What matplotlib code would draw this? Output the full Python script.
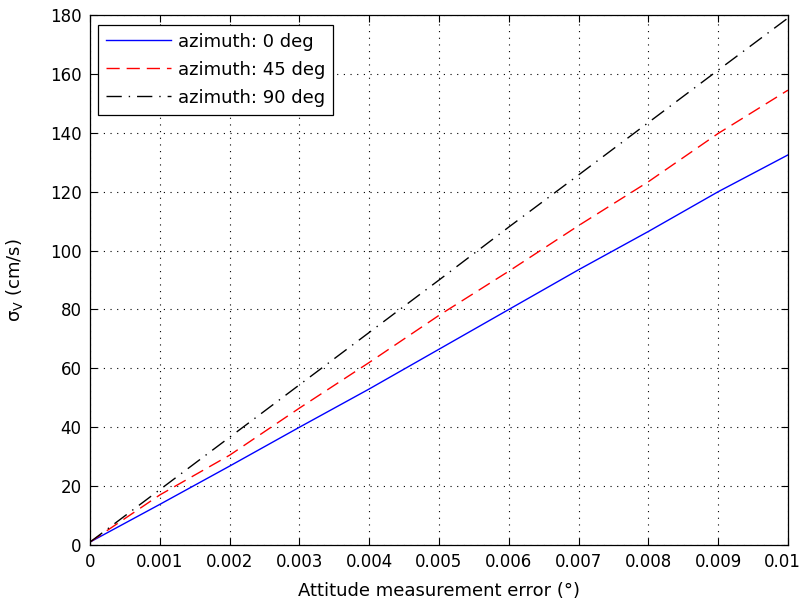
import numpy as np
import matplotlib.pyplot as plt
from matplotlib.transforms import ScaledTranslation

# Attitude error (deg) and resulting velocity error sigma (cm/s)
err = [0, 0.001, 0.002, 0.003, 0.004, 0.005, 0.006, 0.007, 0.008, 0.009, 0.01]
az0 = [1, 13.8, 26.8, 40, 53, 66.5, 80, 93.5, 106.5, 120, 132.5]
az45 = [1, 17, 30.5, 46.5, 62, 78, 93, 108.5, 123.4, 139.8, 154.5]
az90 = [1, 18.8, 36.6, 54.4, 72.2, 90, 108, 125.7, 143.5, 161.3, 179]
xtick_labels = ['0', '0.001', '0.002', '0.003', '0.004', '0.005',
                '0.006', '0.007', '0.008', '0.009', '0.01']

plt.rcParams['font.family'] = ['DejaVu Sans']
plt.rcParams['font.size'] = 12
plt.rcParams['mathtext.fontset'] = 'dejavusans'

fig = plt.figure(figsize=(8.04, 6.05), dpi=100)
ax = fig.add_axes([0.112, 0.0992, 0.868, 0.8758])

ax.plot(err, az0, color='#0000ff', lw=1.0, label='azimuth: 0 deg')
ax.plot(err, az45, color='#ff0000', lw=1.0, ls=(0, (9.5, 5)), label='azimuth: 45 deg')
ax.plot(err, az90, color='black', lw=1.0, ls=(0, (11, 5, 1, 5)), label='azimuth: 90 deg')

ax.set_xlim(0, 0.01)
ax.set_ylim(0, 180)
ax.set_xticks(np.arange(0, 0.0101, 0.001))
ax.set_xticklabels(xtick_labels)
ax.set_yticks(np.arange(0, 181, 20))

ax.grid(True, color='black', ls=(0, (1, 5)), lw=0.8)
ax.tick_params(direction='in', length=5, top=True, right=True, width=0.8, pad=6)
for s in ax.spines.values():
    s.set_linewidth(0.9)

# nudge the last x label so it stays inside the figure
last = ax.xaxis.get_major_ticks()[-1].label1
last.set_transform(last.get_transform() + ScaledTranslation(-6 / 100, 0, fig.dpi_scale_trans))

ax.set_xlabel('Attitude measurement error (°)', fontsize=13, labelpad=8)
ax.set_ylabel('σ$_\\mathrm{V}$ (cm/s)', fontsize=13, labelpad=18)

leg = ax.legend(loc='upper left', fancybox=False, edgecolor='black',
                framealpha=1, fontsize=13, handlelength=3.6, handletextpad=0.35,
                labelspacing=0.55, borderpad=0.45, borderaxespad=0,
                bbox_to_anchor=(0.0115, 0.982))
leg.get_frame().set_linewidth(0.9)

fig.savefig('out.png', dpi=100)
